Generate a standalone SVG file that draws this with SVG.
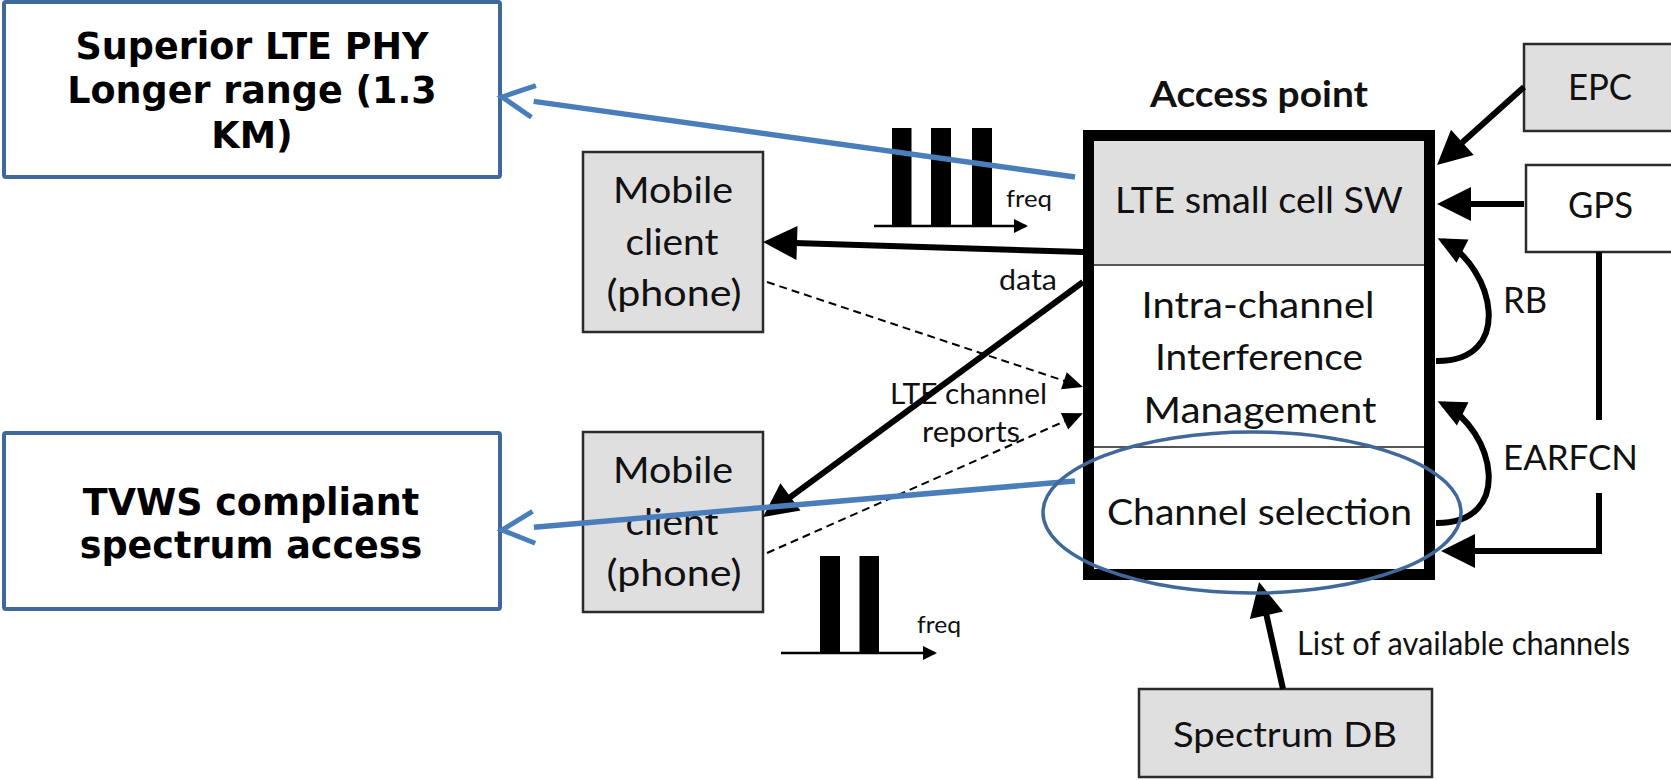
<svg xmlns="http://www.w3.org/2000/svg" width="1671" height="780" viewBox="0 0 1671 780">
  <style>
    .note { fill: #ffffff; stroke: #41689A; stroke-width: 4; }
    .noteText { font-family: "DejaVu Sans", sans-serif; font-weight: bold; font-size: 36.5px; fill: #000; text-anchor: middle; }
    .gbox { fill: #DFDFDF; stroke: #2b2b2b; stroke-width: 2.5; }
    .wbox { fill: #ffffff; stroke: #2b2b2b; stroke-width: 2.5; }
    .t { font-family: Lato, "Liberation Sans", sans-serif; fill: #111; }
    .big { font-size: 37.5px; }
    .mid { font-size: 34px; }
    .sm { font-size: 28px; }
    .xs { font-size: 24px; }
    .mdl { text-anchor: middle; }
    .solid { fill: none; stroke: #000; stroke-width: 6; }
    .thin { fill: none; stroke: #000; stroke-width: 2.5; }
    .dash { fill: none; stroke: #000; stroke-width: 2; stroke-dasharray: 8 5; }
    .blue { fill: none; stroke: #4A7EBB; stroke-width: 5.5; }
    .bar { fill: #000; }
  </style>
  <defs>
    <marker id="ahL" markerUnits="userSpaceOnUse" viewBox="0 0 34 34" markerWidth="34" markerHeight="34" refX="26" refY="17" orient="auto" overflow="visible">
      <path d="M0,0 L34,17 L0,34 z" fill="#000"/>
    </marker>
    <marker id="ahM" markerUnits="userSpaceOnUse" viewBox="0 0 28 26" markerWidth="28" markerHeight="26" refX="22" refY="13" orient="auto" overflow="visible">
      <path d="M0,0 L28,13 L0,26 z" fill="#000"/>
    </marker>
    <marker id="ahS" markerUnits="userSpaceOnUse" viewBox="0 0 20 18" markerWidth="20" markerHeight="18" refX="18" refY="9" orient="auto" overflow="visible">
      <path d="M0,0 L20,9 L0,18 z" fill="#000"/>
    </marker>
    <marker id="ahX" markerUnits="userSpaceOnUse" viewBox="0 0 14 14" markerWidth="14" markerHeight="14" refX="12" refY="7" orient="auto" overflow="visible">
      <path d="M0,0 L14,7 L0,14 z" fill="#000"/>
    </marker>
    <marker id="chev" markerUnits="userSpaceOnUse" viewBox="-4 -20 40 40" markerWidth="40" markerHeight="40" refX="0" refY="0" orient="auto" overflow="visible">
      <path d="M0,-16 L32,0 L0,16" fill="none" stroke="#4A7EBB" stroke-width="5"/>
    </marker>
  </defs>

  <rect x="0" y="0" width="1671" height="780" fill="#ffffff"/>

  <g id="note-phy">
    <rect class="note" x="4" y="2" width="496" height="175" rx="2"/>
    <text class="noteText" x="252" y="59">Superior LTE PHY</text>
    <text class="noteText" x="252" y="103">Longer range (1.3</text>
    <text class="noteText" x="252" y="148">KM)</text>
  </g>

  <g id="note-tvws">
    <rect class="note" x="4" y="433" width="496" height="176" rx="2"/>
    <text class="noteText" x="251" y="515">TVWS compliant</text>
    <text class="noteText" x="251" y="558">spectrum access</text>
  </g>

  <g id="mobile-client-1">
    <rect class="gbox" x="583" y="152" width="180" height="180"/>
    <text class="t big mdl" x="673" y="203" textLength="120" lengthAdjust="spacingAndGlyphs">Mobile</text>
    <text class="t big mdl" x="672" y="255" textLength="93" lengthAdjust="spacingAndGlyphs">client</text>
    <text class="t big mdl" x="674" y="306" textLength="135" lengthAdjust="spacingAndGlyphs">(phone)</text>
  </g>

  <g id="mobile-client-2">
    <rect class="gbox" x="583" y="432" width="180" height="180"/>
    <text class="t big mdl" x="673" y="483" textLength="120" lengthAdjust="spacingAndGlyphs">Mobile</text>
    <text class="t big mdl" x="672" y="535" textLength="93" lengthAdjust="spacingAndGlyphs">client</text>
    <text class="t big mdl" x="674" y="586" textLength="135" lengthAdjust="spacingAndGlyphs">(phone)</text>
  </g>

  <g id="access-point">
    <text class="t mdl" x="1259" y="107" font-size="37px" font-weight="bold" textLength="218" lengthAdjust="spacingAndGlyphs">Access point</text>
    <rect x="1094" y="141" width="331" height="428" fill="#ffffff"/>
    <rect x="1094" y="141" width="331" height="124" fill="#DFDFDF"/>
    <line x1="1094" y1="265" x2="1425" y2="265" stroke="#555" stroke-width="2"/>
    <line x1="1094" y1="447" x2="1425" y2="447" stroke="#555" stroke-width="2"/>
    <rect x="1088.5" y="135.5" width="341" height="439" fill="none" stroke="#000" stroke-width="11"/>
    <text class="t big mdl" x="1259" y="213" textLength="288" lengthAdjust="spacingAndGlyphs">LTE small cell SW</text>
    <text class="t big mdl" x="1258" y="318" textLength="233" lengthAdjust="spacingAndGlyphs">Intra-channel</text>
    <text class="t big mdl" x="1259" y="370" textLength="208" lengthAdjust="spacingAndGlyphs">Interference</text>
    <text class="t big mdl" x="1260" y="423" textLength="233" lengthAdjust="spacingAndGlyphs">Management</text>
    <text class="t big mdl" x="1259.5" y="525" textLength="305" lengthAdjust="spacingAndGlyphs">Channel selection</text>
  </g>

  <g id="epc">
    <rect class="gbox" x="1524" y="44" width="160" height="87"/>
    <text class="t big mdl" x="1600" y="100" textLength="64" lengthAdjust="spacingAndGlyphs">EPC</text>
  </g>

  <g id="gps">
    <rect class="wbox" x="1526" y="165" width="160" height="87"/>
    <text class="t big mdl" x="1600.5" y="218" textLength="65" lengthAdjust="spacingAndGlyphs">GPS</text>
  </g>

  <g id="spectrum-db">
    <rect class="gbox" x="1139" y="689" width="293" height="88"/>
    <text class="t mid mdl" x="1285" y="747" textLength="224" lengthAdjust="spacingAndGlyphs">Spectrum DB</text>
  </g>

  <g id="spectrum-top">
    <rect class="bar" x="892" y="128" width="19.5" height="98"/>
    <rect class="bar" x="931" y="128" width="20" height="98"/>
    <rect class="bar" x="972" y="128" width="20" height="98"/>
    <line class="thin" x1="874" y1="226" x2="1026" y2="226" marker-end="url(#ahX)"/>
    <text class="t xs" x="1006" y="207" textLength="46" lengthAdjust="spacingAndGlyphs">freq</text>
  </g>

  <g id="spectrum-bottom">
    <rect class="bar" x="820" y="556" width="20" height="97"/>
    <rect class="bar" x="859.5" y="556" width="19.5" height="97"/>
    <line class="thin" x1="781" y1="653" x2="935" y2="653" marker-end="url(#ahX)"/>
    <text class="t xs" x="917" y="633" textLength="44" lengthAdjust="spacingAndGlyphs">freq</text>
  </g>

  <g id="labels">
    <text class="t sm" x="999" y="290" textLength="58" lengthAdjust="spacingAndGlyphs">data</text>
    <text class="t sm" x="890" y="404" textLength="157" lengthAdjust="spacingAndGlyphs">LTE channel</text>
    <text class="t sm" x="922" y="442" textLength="98" lengthAdjust="spacingAndGlyphs">reports</text>
    <text class="t big" x="1503" y="313" textLength="44" lengthAdjust="spacingAndGlyphs">RB</text>
    <text class="t mid" x="1503" y="470" textLength="135" lengthAdjust="spacingAndGlyphs">EARFCN</text>
    <text class="t" x="1297" y="655" font-size="32px" textLength="333" lengthAdjust="spacingAndGlyphs">List of available channels</text>
  </g>

  <g id="connectors">
    <line class="solid" x1="1083" y1="252" x2="771" y2="242.3" marker-end="url(#ahL)"/>
    <line class="solid" x1="1083" y1="282" x2="769.5" y2="512.3" marker-end="url(#ahL)"/>
    <line class="dash" x1="767" y1="282" x2="1081" y2="386.4" marker-end="url(#ahS)"/>
    <line class="dash" x1="767" y1="553" x2="1081" y2="414" marker-end="url(#ahS)"/>
    <line class="solid" x1="1524" y1="87" x2="1443" y2="159.7" marker-end="url(#ahL)"/>
    <line class="solid" x1="1524" y1="204" x2="1445" y2="204" marker-end="url(#ahL)"/>
    <path class="solid" d="M1599,252 V420 M1599,493 V551 H1449" marker-end="url(#ahL)"/>
    <path class="solid" stroke-width="5" d="M1436,361 C1515,362 1495,268 1443,241" marker-end="url(#ahM)"/>
    <path class="solid" stroke-width="5" d="M1436,523 C1515,524 1495,430 1443,404" marker-end="url(#ahM)"/>
    <line class="solid" x1="1283" y1="689" x2="1260.8" y2="589.8" marker-end="url(#ahL)"/>
    <line class="blue" x1="1075" y1="177" x2="533.7" y2="101.4" marker-end="url(#chev)"/>
    <line class="blue" x1="1075" y1="481" x2="533.9" y2="527.3" marker-end="url(#chev)"/>
  </g>

  <g id="highlight">
    <ellipse cx="1252" cy="512.5" rx="209" ry="80.5" fill="none" stroke="#41689A" stroke-width="3.5"/>
  </g>
</svg>
